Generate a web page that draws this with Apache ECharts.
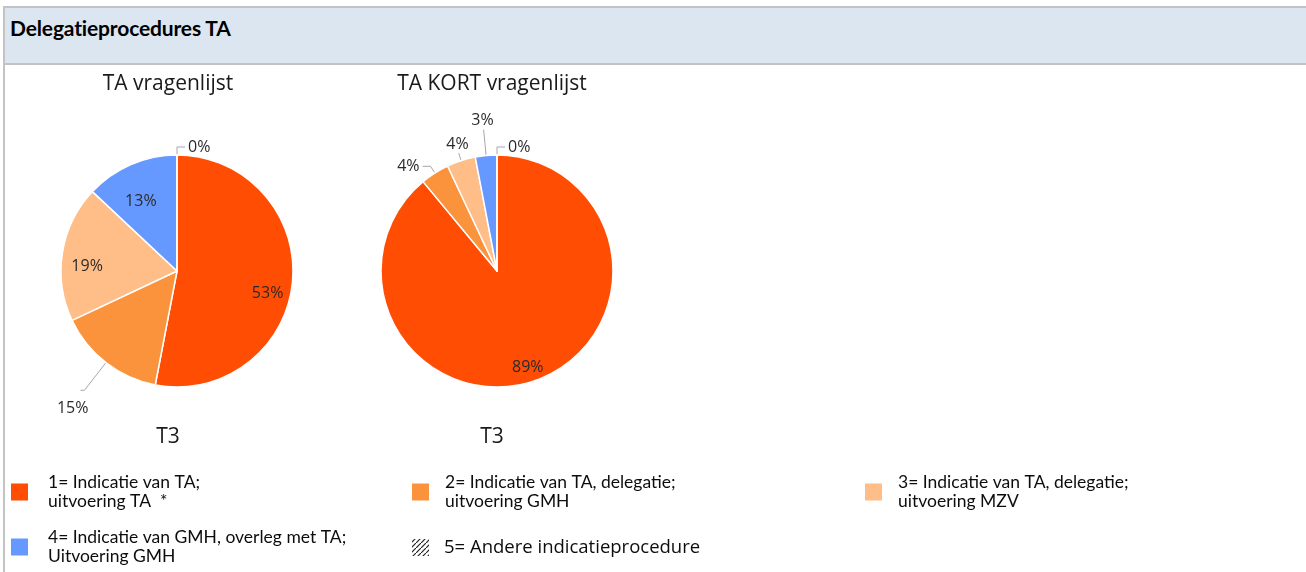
<!DOCTYPE html>
<html>
<head>
<meta charset="utf-8">
<script src="https://cdn.jsdelivr.net/npm/echarts@6/dist/echarts.min.js"></script>
<style>
  html, body { margin: 0; padding: 0; background: #fff; }
  #main { position: absolute; left: 0; top: 0; width: 1306px; height: 572px; }
  #frame { position: absolute; left: 3px; top: 6px; width: 1303px; height: 566px; border-left: 2px solid #c3c3c3; }
  #head {
    position: absolute; left: 5px; top: 6px; width: 1297px; height: 47px;
    background: #dce6f1; border-top: 2px solid #c3c3c3; border-bottom: 2px solid #c3c3c3;
    font: bold 21px Lato, "Liberation Sans", sans-serif; color: #000;
    padding: 8px 0 0 5px; line-height: 24px; letter-spacing: -0.15px;
  }
</style>
</head>
<body>
<div id="main"></div>
<div id="frame"></div>
<div id="head">Delegatieprocedures TA</div>
<script>
// legend categories (1..5)
var categories = [
  '1= Indicatie van TA;\nuitvoering TA  *',
  '2= Indicatie van TA, delegatie;\nuitvoering GMH',
  '3= Indicatie van TA, delegatie;\nuitvoering MZV',
  '4= Indicatie van GMH, overleg met TA;\nUitvoering GMH',
  '5= Andere indicatieprocedure'
];
// percentages per questionnaire
var taValues = [53, 15, 19, 13, 0];
var taKortValues = [89, 4, 4, 3, 0];
var chartTitles = ['TA vragenlijst', 'TA KORT vragenlijst'];
var periodLabel = 'T3';

// hatch fill for category 5
var hatch = document.createElement('canvas');
hatch.width = 5; hatch.height = 5;
var hctx = hatch.getContext('2d');
hctx.fillStyle = '#fff'; hctx.fillRect(0, 0, 5, 5);
hctx.strokeStyle = '#222'; hctx.lineWidth = 1.2;
hctx.beginPath(); hctx.moveTo(0, 5); hctx.lineTo(5, 0); hctx.stroke();
var hatchFill = { image: hatch, repeat: 'repeat' };

var colors = ['#ff4d03', '#fa933c', '#ffbd88', '#6699ff', hatchFill];

var labelFont = { fontFamily: 'Open Sans', fontSize: 16, lineHeight: 18, color: '#2b2b2b' };

// outside: per slice [length, length2, distanceToLabelLine, formatter]
// inside: per slice line height used to push the inner label down a little
function pieSeries(values, cx, outside, inside, avoid) {
  var main = {
    type: 'pie',
    center: [cx, 271],
    radius: [0, 116],
    startAngle: 90,
    clockwise: true,
    animation: false,
    emphasis: { disabled: true },
    avoidLabelOverlap: avoid,
    itemStyle: { borderColor: '#fff', borderWidth: 1.5 },
    label: Object.assign({ position: 'outside', formatter: '{c}%', distanceToLabelLine: 3 }, labelFont),
    labelLine: { length: 8, length2: 6, lineStyle: { color: '#a6a6a6', width: 1 } },
    data: values.map(function (v, i) {
      var out = !(i in inside);
      var ll = { show: out };
      var lb = { show: out };
      var t = outside[i];
      if (t) {
        ll.length = t[0]; ll.length2 = t[1];
        if (t[2] != null) lb.distanceToLabelLine = t[2];
        if (t[3]) lb.formatter = t[3];
      }
      return {
        name: categories[i], value: v,
        itemStyle: { color: colors[i] },
        label: lb,
        labelLine: ll
      };
    })
  };
  // transparent ring only used to place the inner labels further out
  var ring = {
    type: 'pie',
    center: [cx, 271],
    radius: [60, 116],
    startAngle: 90,
    clockwise: true,
    silent: true,
    animation: false,
    legendHoverLink: false,
    itemStyle: { color: 'rgba(0,0,0,0)', borderWidth: 0 },
    label: Object.assign({ position: 'inside', formatter: '\n{c}%' }, labelFont),
    labelLine: { show: false },
    data: values.map(function (v, i) {
      var lb = { show: i in inside };
      if (i in inside) lb.lineHeight = inside[i];
      return { name: categories[i], value: v, label: lb };
    })
  };
  return [main, ring];
}

var legendText = { fontFamily: 'Lato', fontSize: 17.5, lineHeight: 19, color: '#0d0d0d', padding: [0, 0, 0, 10] };
function legendAt(item, left, top, text) {
  return {
    icon: 'rect', itemWidth: 19, itemHeight: 19, padding: 0, selectedMode: false,
    data: [item], left: left, top: top,
    textStyle: Object.assign({}, legendText, text || {})
  };
}

function label(text, x, y) {
  return { type: 'text', x: x, y: y, style: { text: text, font: '21px "Open Sans"', fill: '#1a1a1a', align: 'center', verticalAlign: 'middle' } };
}

var chart = echarts.init(document.getElementById('main'), null, { renderer: 'canvas' });
chart.setOption({
  backgroundColor: 'transparent',
  graphic: [
    label(chartTitles[0], 168, 84),
    label(chartTitles[1], 492, 84),
    label(periodLabel, 168, 437),
    label(periodLabel, 492, 437)
  ],
  legend: [
    legendAt(categories[0], 9, 473, { padding: [0, 0, 0, 14] }),
    legendAt(categories[1], 410, 473),
    legendAt(categories[2], 863, 473),
    legendAt(categories[3], 9, 528, { padding: [0, 0, 0, 14] }),
    legendAt({ name: categories[4], itemStyle: { color: hatchFill } }, 410, 537,
      { fontFamily: 'Open Sans', fontSize: 18.5, padding: [0, 0, 0, 9] })
  ],
  series: pieSeries(taValues, 177, { 1: [35, 4, -8, '\n\n{c}%'], 4: [8, 8] }, { 0: 28, 2: 20, 3: 28 }, true)
    .concat(pieSeries(taKortValues, 497, {
      1: [8, 8],
      2: [8, 0, -10, '{c}%\n'],
      3: [26, 0, -10, '{c}%\n'],
      4: [8, 8]
    }, { 0: 22 }, false))
});
</script>
</body>
</html>
